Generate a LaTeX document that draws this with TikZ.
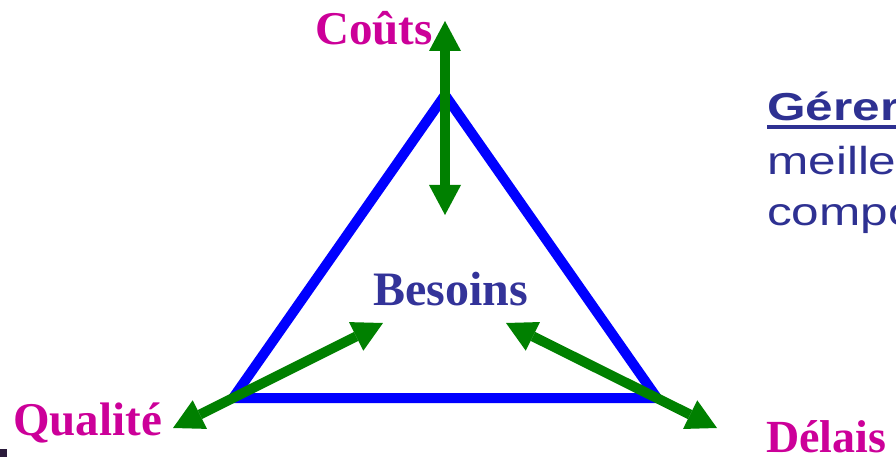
\documentclass[tikz,border=0pt]{standalone}
\usepackage{fontspec}
\usepackage{graphicx}
\setmainfont{Liberation Serif}
\setsansfont{Liberation Sans}
\usetikzlibrary{arrows.meta}
\definecolor{magentaT}{RGB}{204,0,153}
\definecolor{navyT}{RGB}{51,51,153}
\definecolor{navyR}{RGB}{46,49,146}
\definecolor{blueT}{RGB}{0,0,255}
\definecolor{greenT}{RGB}{0,128,0}
\definecolor{darkmark}{RGB}{43,27,59}
\tikzset{
  corner/.style={font=\bfseries\fontsize{47}{47}\selectfont, text=magentaT, inner sep=0pt, anchor=base west},
  center/.style={font=\bfseries\fontsize{48}{48}\selectfont, text=navyT, inner sep=0pt, anchor=base west},
  side/.style={font=\sffamily\fontsize{39}{39}\selectfont, text=navyR, inner sep=0pt, anchor=base west},
  tri/.style={draw=blueT, line width=10pt, line join=miter},
  dblarrow/.style={draw=greenT, line width=10pt,
    {Triangle[length=30pt,width=32pt,line width=0pt]}-{Triangle[length=30pt,width=32pt,line width=0pt]}}
}
\begin{document}
\begin{tikzpicture}[x=1pt,y=-1pt]
\useasboundingbox (0,0) rectangle (896,457);
\clip (0,0) rectangle (896,457);
% triangle
\coordinate (apex) at (445,95);
\coordinate (bl) at (233,398);
\coordinate (br) at (657,398);
\draw[tri] (apex) -- (br) -- (bl) -- cycle;
% arrow ends
\coordinate (couts-end) at (445,21);
\coordinate (couts-in) at (445,215);
\coordinate (qual-end) at (173,428);
\coordinate (qual-in) at (383,323);
\coordinate (del-in) at (506,323);
\coordinate (del-end) at (717,428);
\draw[dblarrow] (couts-in) -- (couts-end);
\draw[dblarrow] (qual-in) -- (qual-end);
\draw[dblarrow] (del-in) -- (del-end);
% labels
\node[corner] (couts) at (315,45) {Coûts};
\node[corner] (qualite) at (13,435) {Qualité};
\node[corner, font=\bfseries\fontsize{46}{46}\selectfont] (delais) at (766,452) {Délais};
\node[center] (besoins) at (373,305) {Besoins};
% right text (cropped)
\node[side] (gerer) at (767,121) {\scalebox{1.27}[1]{\bfseries Gérer}};
\draw[navyR, line width=4pt] ([yshift=-6pt]gerer.base west) -- ([yshift=-6pt]gerer.base east);
\node[side] (meille) at (767,175) {\scalebox{1.27}[1]{meille}};
\node[side] (compo) at (767,225) {\scalebox{1.27}[1]{compo}};
% small dark mark at lower left edge
\fill[darkmark] (0,449) rectangle (7,457);
\end{tikzpicture}
\end{document}
